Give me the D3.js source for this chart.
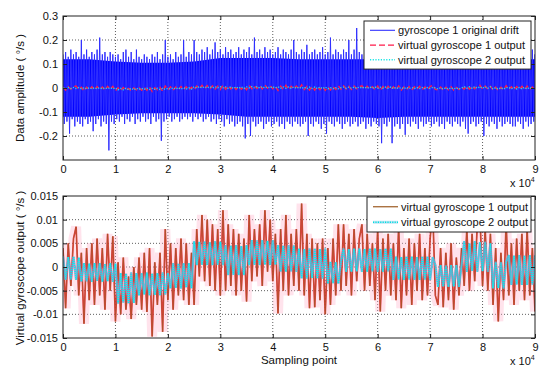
<!DOCTYPE html>
<html>
<head>
<meta charset="utf-8">
<script src="https://cdn.jsdelivr.net/npm/d3@7"></script>
<style>
  body { margin: 0; background: #fff; }
  text { font-family: "Liberation Sans", Arial, sans-serif; }
</style>
</head>
<body>
<svg id="fig" width="550" height="379"></svg>
<script>
// x ticks (sampling point) and y ticks of both panels
const xTicks = [0, 10000, 20000, 30000, 40000, 50000, 60000, 70000, 80000, 90000];
const topYTicks = [-0.2, -0.1, 0, 0.1, 0.2, 0.3];
const botYTicks = [-0.015, -0.01, -0.005, 0, 0.005, 0.01, 0.015];

// gyroscope 1 original drift
// solid core of the band, one value every 5000 samples
const coreStep = 5000;
const blueCoreHi = [0.12, 0.12, 0.11, 0.105, 0.105, 0.11, 0.125, 0.125, 0.125, 0.12,
  0.12, 0.12, 0.12, 0.12, 0.12, 0.12, 0.12, 0.12, 0.12];
const blueCoreLo = [-0.12, -0.12, -0.11, -0.105, -0.105, -0.105, -0.11, -0.12, -0.12, -0.12,
  -0.12, -0.12, -0.125, -0.12, -0.12, -0.12, -0.12, -0.12, -0.12];
// spike tips above / below, one value every 500 samples
const blueStep = 500;
const blueHi = [
  0.14, 0.15, 0.13, 0.16, 0.14, 0.15, 0.13, 0.20, 0.14, 0.16,
  0.13, 0.15, 0.14, 0.16, 0.21, 0.14, 0.15, 0.13, 0.15, 0.14,
  0.13, 0.14, 0.12, 0.15, 0.16, 0.13, 0.15, 0.12, 0.16, 0.13,
  0.12, 0.14, 0.13, 0.12, 0.14, 0.13, 0.15, 0.12, 0.14, 0.20,
  0.13, 0.14, 0.12, 0.15, 0.13, 0.14, 0.20, 0.13, 0.15, 0.14,
  0.20, 0.15, 0.14, 0.16, 0.15, 0.17, 0.14, 0.16, 0.19, 0.15,
  0.16, 0.14, 0.17, 0.15, 0.16, 0.14, 0.15, 0.17, 0.14, 0.16,
  0.15, 0.17, 0.14, 0.21, 0.15, 0.16, 0.14, 0.17, 0.15, 0.16,
  0.14, 0.15, 0.17, 0.14, 0.16, 0.15, 0.14, 0.16, 0.20, 0.15,
  0.14, 0.16, 0.15, 0.18, 0.14, 0.15, 0.16, 0.14, 0.15, 0.17,
  0.14, 0.15, 0.21, 0.14, 0.16, 0.15, 0.14, 0.16, 0.15, 0.20,
  0.14, 0.16, 0.25, 0.15, 0.14, 0.16, 0.15, 0.14, 0.17, 0.15,
  0.14, 0.16, 0.15, 0.14, 0.15, 0.16, 0.14, 0.15, 0.14, 0.16,
  0.15, 0.14, 0.16, 0.15, 0.14, 0.16, 0.15, 0.14, 0.15, 0.16,
  0.14, 0.15, 0.16, 0.14, 0.15, 0.14, 0.16, 0.15, 0.14, 0.15,
  0.16, 0.14, 0.15, 0.14, 0.16, 0.15, 0.14, 0.15, 0.16, 0.14,
  0.15, 0.14, 0.16, 0.15, 0.14, 0.15, 0.16, 0.14, 0.15, 0.14,
  0.16, 0.15, 0.14, 0.15, 0.14, 0.16, 0.15, 0.14, 0.15, 0.16,
  0.14
];
const blueLo = [
  -0.15, -0.14, -0.19, -0.13, -0.16, -0.14, -0.15, -0.16, -0.13, -0.15,
  -0.14, -0.18, -0.15, -0.13, -0.16, -0.14, -0.15, -0.26, -0.14, -0.15,
  -0.13, -0.14, -0.12, -0.15, -0.13, -0.14, -0.12, -0.15, -0.13, -0.14,
  -0.12, -0.14, -0.13, -0.15, -0.12, -0.14, -0.13, -0.22, -0.14, -0.13,
  -0.12, -0.14, -0.13, -0.12, -0.14, -0.13, -0.12, -0.13, -0.12, -0.14,
  -0.12, -0.13, -0.12, -0.14, -0.13, -0.12, -0.14, -0.13, -0.15, -0.13,
  -0.14, -0.16, -0.13, -0.15, -0.14, -0.16, -0.15, -0.14, -0.16, -0.21,
  -0.15, -0.20, -0.14, -0.16, -0.15, -0.14, -0.17, -0.15, -0.14, -0.16,
  -0.15, -0.14, -0.16, -0.15, -0.17, -0.14, -0.15, -0.16, -0.14, -0.15,
  -0.16, -0.15, -0.14, -0.20, -0.15, -0.16, -0.14, -0.15, -0.17, -0.15,
  -0.19, -0.14, -0.15, -0.16, -0.14, -0.15, -0.17, -0.15, -0.14, -0.16,
  -0.15, -0.14, -0.16, -0.15, -0.14, -0.17, -0.15, -0.16, -0.14, -0.15,
  -0.16, -0.23, -0.15, -0.16, -0.14, -0.23, -0.16, -0.15, -0.17, -0.15,
  -0.195, -0.15, -0.16, -0.14, -0.15, -0.17, -0.14, -0.16, -0.15, -0.14,
  -0.16, -0.15, -0.14, -0.16, -0.15, -0.17, -0.14, -0.15, -0.16, -0.14,
  -0.15, -0.16, -0.14, -0.17, -0.19, -0.15, -0.14, -0.16, -0.15, -0.14,
  -0.20, -0.15, -0.16, -0.14, -0.15, -0.17, -0.14, -0.16, -0.15, -0.14,
  -0.15, -0.16, -0.16, -0.14, -0.15, -0.17, -0.14, -0.16, -0.15, -0.14,
  -0.15
];

// virtual gyroscope outputs, one value every 500 samples
const virtStep = 500;
const virt1 = [
  0.004, -0.0087, 0.005, -0.004, 0.006, 0.0085, -0.006,
  0.003, -0.012, 0.004, -0.007, 0.005, -0.008, 0.006, -0.006, 0.004, -0.009, 0.007, -0.005, 0.0065, -0.0115,
  0.001, -0.01, 0.002, -0.009, -0.002, -0.011, 0.0, -0.008,
  0.002, -0.009, 0.003, -0.0095, 0.004, -0.0147, 0.001, -0.008, 0.003, -0.0137, 0.008, -0.007,
  0.005, -0.009, 0.004, -0.006, 0.006, -0.007, 0.005, -0.008, 0.003,
  -0.008, 0.008, -0.002, 0.011, -0.003, 0.01, -0.004, 0.009, -0.005, 0.008, -0.006, 0.012,
  -0.005, 0.009, -0.004, 0.008, -0.006, 0.007, -0.005, 0.006, -0.0073,
  0.011, -0.003, 0.008, -0.002, 0.009, -0.004, 0.012, -0.001, 0.01, -0.003, 0.007,
  -0.0098, 0.008, -0.005, 0.011, -0.006, 0.007, -0.004, 0.008,
  -0.005, 0.0134, -0.006, 0.007, -0.0087, 0.006, -0.0085, 0.005, -0.007, 0.006, -0.01,
  0.004, -0.008, 0.006, -0.006, 0.009, -0.005,
  0.009, -0.004, 0.007, -0.006, 0.008, -0.003, 0.006, 0.009, -0.005, 0.007, -0.004, 0.005, -0.007, 0.008, -0.0094, 0.006, -0.005, 0.007, -0.006,
  0.005, -0.007, 0.0085, -0.0087, 0.004, -0.006, 0.006, -0.008, 0.005, -0.005, 0.007, -0.007, 0.004, -0.006, 0.006, 0.012,
  -0.006, -0.008, 0.004, -0.0085, 0.003, -0.007, 0.005, -0.009, 0.002, -0.006, 0.004,
  -0.004, 0.008, -0.005, 0.007, -0.003, 0.009, 0.011, -0.004, 0.008, -0.005, 0.007,
  -0.008, 0.004, -0.0115, 0.003, -0.007, 0.0095,
  -0.006, 0.005, -0.008, 0.006, -0.005, 0.007, -0.007, 0.008, -0.006, 0.004, -0.0094
];
const virt2 = [
  0.0022, -0.0027, 0.0021, -0.0026, 0.0022, -0.0027, 0.0020,
  -0.0031, 0.0008, -0.0030, 0.0007, -0.0031, 0.0008, -0.0029, 0.0008, -0.0031, 0.0006, -0.0030, 0.0008, -0.0031, 0.0007,
  -0.0077, -0.0013, -0.0075, -0.0014, -0.0077, -0.0012, -0.0076, -0.0013,
  -0.0060, -0.0013, -0.0058, -0.0012, -0.0060, -0.0014, -0.0059, -0.0013, -0.0060, -0.0012, -0.0058, -0.0013,
  -0.0045, 0.0008, -0.0044, 0.0007, -0.0045, 0.0008, -0.0043, 0.0008, -0.0045,
  0.0054, 0.0004, 0.0053, 0.0005, 0.0054, 0.0004, 0.0052, 0.0004, 0.0054, 0.0005, 0.0053, 0.0004,
  0.0046, -0.0017, 0.0045, -0.0016, 0.0046, -0.0017, 0.0044, -0.0017, 0.0046,
  0.0004, 0.0057, 0.0005, 0.0056, 0.0004, 0.0057, 0.0005, 0.0055, 0.0004, 0.0057, 0.0005,
  0.0046, -0.0010, 0.0045, -0.0010, 0.0046, -0.0009, 0.0045, -0.0010,
  0.0039, -0.0024, 0.0038, -0.0024, 0.0039, -0.0023, 0.0039, -0.0024, 0.0038, -0.0024, 0.0039,
  -0.0035, 0.0011, -0.0034, 0.0010, -0.0035, 0.0011,
  0.0039, -0.0010, 0.0038, -0.0010, 0.0039, -0.0009, 0.0039, -0.0010, 0.0038, -0.0010, 0.0039, -0.0009, 0.0039, -0.0010, 0.0038, -0.0010, 0.0039, -0.0009, 0.0039,
  -0.0027, 0.0022, -0.0026, 0.0021, -0.0027, 0.0022, -0.0026, 0.0022, -0.0027, 0.0021, -0.0027, 0.0022, -0.0026, 0.0022, -0.0027, 0.0021,
  0.0004, -0.0042, 0.0004, -0.0041, 0.0003, -0.0042, 0.0004, -0.0041, 0.0004, -0.0042, 0.0003,
  0.0054, -0.0010, 0.0050, -0.0008, 0.0054, -0.0010, 0.0052, -0.0009, 0.0053, -0.0010, 0.0050,
  -0.0045, 0.0011, -0.0044, 0.0010, -0.0045, 0.0011,
  0.0025, -0.0038, 0.0024, -0.0037, 0.0025, -0.0038, 0.0024, -0.0038, 0.0025, -0.0037, 0.0025
];

const topLegend = ["gyroscope 1 original drift", "virtual gyroscope 1 output", "virtual gyroscope 2 output"];
const botLegend = ["virtual gyroscope 1 output", "virtual gyroscope 2 output"];

const svg = d3.select("#fig");
const left = 63, right = 535;

const x = d3.scaleLinear().domain([0, 90000]).range([left, right]);
const yTop = d3.scaleLinear().domain([-0.3, 0.3]).range([160, 16]);
const yBot = d3.scaleLinear().domain([-0.015, 0.015]).range([338, 196]);

// clip paths for both panels
const defs = svg.append("defs");
[["clipTop", yTop], ["clipBot", yBot]].forEach(([id, y]) => {
  defs.append("clipPath").attr("id", id).append("rect")
    .attr("x", left).attr("y", y.range()[1])
    .attr("width", right - left).attr("height", y.range()[0] - y.range()[1]);
});

// dotted grid
function drawGrid(y, yTicks) {
  const g = svg.append("g");
  const top = y.range()[1], bottom = y.range()[0];
  g.selectAll(".gx").data(xTicks.slice(1, -1)).enter().append("line")
    .attr("x1", d => x(d)).attr("x2", d => x(d))
    .attr("y1", top).attr("y2", bottom)
    .attr("stroke", "#333").attr("stroke-width", 0.8).attr("stroke-dasharray", "1,2");
  g.selectAll(".gy").data(yTicks.filter(d => y(d) > top + 1 && y(d) < bottom - 1)).enter().append("line")
    .attr("x1", left).attr("x2", right)
    .attr("y1", d => y(d)).attr("y2", d => y(d))
    .attr("stroke", "#333").attr("stroke-width", 0.8).attr("stroke-dasharray", "1,2");
}

function drawAxes(y, yTicks, fmt) {
  const top = y.range()[1], bottom = y.range()[0];
  const g = svg.append("g");
  const style = a => {
    a.select(".domain").remove();
    a.selectAll("line").attr("stroke", "#222");
    a.selectAll("text").attr("fill", "#111").style("font-size", "11px")
      .style("font-family", "'Liberation Sans', Arial, sans-serif");
  };
  g.append("g").attr("transform", `translate(0,${bottom})`)
    .call(d3.axisBottom(x).tickValues(xTicks).tickFormat(d => d / 1e4)
      .tickSizeInner(-4).tickSizeOuter(0).tickPadding(5)).call(style);
  g.append("g").attr("transform", `translate(0,${top})`)
    .call(d3.axisTop(x).tickValues(xTicks).tickFormat("").tickSizeInner(-4).tickSizeOuter(0)).call(style);
  g.append("g").attr("transform", `translate(${left},0)`)
    .call(d3.axisLeft(y).tickValues(yTicks).tickFormat(fmt)
      .tickSizeInner(-4).tickSizeOuter(0).tickPadding(5)).call(style);
  g.append("g").attr("transform", `translate(${right},0)`)
    .call(d3.axisRight(y).tickValues(yTicks).tickFormat("").tickSizeInner(-4).tickSizeOuter(0)).call(style);
  g.append("rect").attr("x", left).attr("y", top)
    .attr("width", right - left).attr("height", bottom - top)
    .attr("fill", "none").attr("stroke", "#222").attr("stroke-width", 1);

  // "x 10^4" multiplier
  const m = g.append("text").attr("x", 510).attr("y", bottom + 27)
    .style("font-size", "11px").attr("fill", "#111");
  m.append("tspan").text("x 10");
  m.append("tspan").attr("dy", -5).style("font-size", "7px").text("4");
}

function drawVirtual(y, clip, thin) {
  const g = svg.append("g").attr("clip-path", `url(#${clip})`);
  const line = d3.line().x((d, i) => x(i * virtStep)).y(d => y(d));
  if (thin) {
    g.append("path").datum(virt1).attr("d", line).attr("fill", "none")
      .attr("stroke", "#ff1a4a").attr("stroke-width", 1.4).attr("stroke-dasharray", "5,3");
    g.append("path").datum(virt2).attr("d", line).attr("fill", "none")
      .attr("stroke", "#19e6e6").attr("stroke-width", 1.3).attr("stroke-dasharray", "1.2,1.5");
    return;
  }
  g.append("path").datum(virt1).attr("d", line).attr("fill", "none")
    .attr("stroke", "#ffb0c8").attr("stroke-opacity", 0.35).attr("stroke-width", 10);
  g.append("path").datum(virt1).attr("d", line).attr("fill", "none")
    .attr("stroke", "#e81e26").attr("stroke-opacity", 0.85).attr("stroke-width", 1.7);
  g.append("path").datum(virt1).attr("d", line).attr("fill", "none")
    .attr("stroke", "#9a5a24").attr("stroke-opacity", 0.9).attr("stroke-width", 0.7);
  g.append("path").datum(virt2).attr("d", line).attr("fill", "none")
    .attr("stroke", "#8a94cc").attr("stroke-opacity", 0.8).attr("stroke-width", 2.4);
  g.append("path").datum(virt2).attr("d", line).attr("fill", "none")
    .attr("stroke", "#00f0f0").attr("stroke-width", 1.6).attr("stroke-dasharray", "1,1");
}

// ---- top panel ----
drawGrid(yTop, topYTicks);
const blueG = svg.append("g").attr("clip-path", "url(#clipTop)");
// solid core
blueG.append("path").datum(blueCoreHi)
  .attr("d", d3.area()
    .x((d, i) => x(i * coreStep))
    .y0((d, i) => yTop(blueCoreLo[i]))
    .y1(d => yTop(d)))
  .attr("fill", "#0000ff");
// spikes: zigzag through the upper and lower tips
const spikePts = [];
blueHi.forEach((v, i) => {
  spikePts.push([x(i * blueStep), yTop(v)]);
  spikePts.push([x(i * blueStep + blueStep / 2), yTop(blueLo[i])]);
});
blueG.append("path").attr("d", d3.line()(spikePts))
  .attr("fill", "none").attr("stroke", "#3030ff").attr("stroke-width", 1);
drawVirtual(yTop, "clipTop", true);
drawAxes(yTop, topYTicks, d => String(+d.toFixed(1)));

// ---- bottom panel ----
drawGrid(yBot, botYTicks);
drawVirtual(yBot, "clipBot", false);
drawAxes(yBot, botYTicks, d => String(+d.toFixed(3)));

// axis labels
svg.append("text").attr("transform", "translate(24,88) rotate(-90)")
  .attr("text-anchor", "middle").style("font-size", "11.5px").attr("fill", "#111")
  .text("Data amplitude ( °/s )");
svg.append("text").attr("transform", "translate(24,268) rotate(-90)")
  .attr("text-anchor", "middle").style("font-size", "11.5px").attr("fill", "#111")
  .text("Virtual gyroscope output ( °/s )");
svg.append("text").attr("x", 299).attr("y", 364)
  .attr("text-anchor", "middle").style("font-size", "11.5px").attr("fill", "#111")
  .text("Sampling point");

// ---- legends ----
function legend(x0, y0, w, rowH, labels, samples) {
  const g = svg.append("g");
  g.append("rect").attr("x", x0).attr("y", y0).attr("width", w)
    .attr("height", labels.length * rowH + 4)
    .attr("fill", "#fff").attr("stroke", "#222").attr("stroke-width", 1);
  labels.forEach((lab, i) => {
    const cy = y0 + 2 + rowH * (i + 0.5);
    samples[i].forEach(s => {
      g.append("line").attr("x1", x0 + 6).attr("x2", x0 + 31)
        .attr("y1", cy).attr("y2", cy)
        .attr("stroke", s.c).attr("stroke-width", s.w)
        .attr("stroke-dasharray", s.dash || null)
        .attr("stroke-opacity", s.o || 1);
    });
    g.append("text").attr("x", x0 + 34).attr("y", cy + 4)
      .style("font-size", "11.1px").attr("fill", "#111").text(lab);
  });
}
legend(364, 21, 167, 14.7, topLegend, [
  [{ c: "#5050ff", w: 1.3 }],
  [{ c: "#ff1a4a", w: 1.3, dash: "6,3" }],
  [{ c: "#19e6e6", w: 1.3, dash: "1.2,1.5" }]
]);
legend(367, 197, 164, 15.5, botLegend, [
  [{ c: "#9c5a22", w: 1.2 }],
  [{ c: "#a8d8f0", w: 3, o: 0.7 }, { c: "#00e0e0", w: 1.3, dash: "1.2,1.2" }]
]);
</script>
</body>
</html>
